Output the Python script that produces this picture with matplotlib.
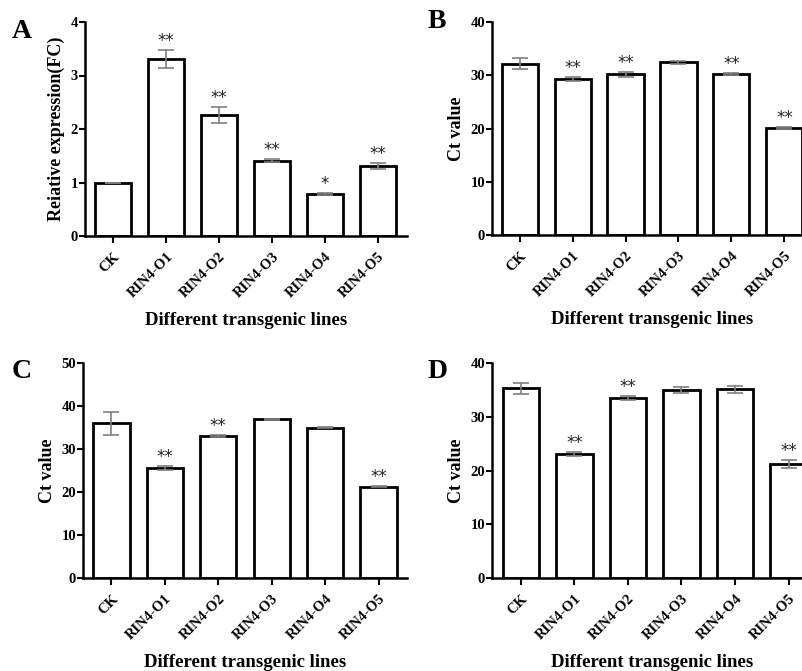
import numpy as np
import matplotlib
matplotlib.use("Agg")
import matplotlib.pyplot as plt

plt.rcParams["font.family"] = ["Liberation Serif", "DejaVu Serif"]
plt.rcParams["font.weight"] = "bold"

lines = ["CK", "RIN4-O1", "RIN4-O2", "RIN4-O3", "RIN4-O4", "RIN4-O5"]

# panel A: relative expression (fold change)
a_mean = [1.00, 3.31, 2.27, 1.41, 0.79, 1.31]
a_err = [0.00, 0.17, 0.15, 0.02, 0.02, 0.05]
a_sig = ["", "**", "**", "**", "*", "**"]

# panel B: Ct values
b_mean = [32.2, 29.3, 30.2, 32.4, 30.2, 20.1]
b_err = [1.0, 0.3, 0.5, 0.3, 0.2, 0.2]
b_sig = ["", "**", "**", "", "**", "**"]

# panel C: Ct values
c_mean = [36.0, 25.6, 33.0, 36.9, 35.0, 21.2]
c_err = [2.7, 0.4, 0.15, 0.1, 0.1, 0.1]
c_sig = ["", "**", "**", "", "", "**"]

# panel D: Ct values
d_mean = [35.3, 23.1, 33.5, 35.0, 35.1, 21.2]
d_err = [1.05, 0.4, 0.4, 0.5, 0.7, 0.7]
d_sig = ["", "**", "**", "", "", "**"]

W, H = 803, 671
fig = plt.figure(figsize=(W / 100, H / 100), dpi=100)


def px_axes(left, top, right, bottom):
    return fig.add_axes([left / W, 1 - bottom / H, (right - left) / W, (bottom - top) / H])


def panel(ax, mean, err, sig, ymax, ystep, ylabel, xlim, letter, lpos, xlab_x):
    x = np.arange(len(lines))
    ax.bar(x, mean, width=0.68, color="white", edgecolor="black", linewidth=2.0, zorder=2)
    ax.errorbar(x, mean, yerr=err, fmt="none", ecolor="#7f7f7f", elinewidth=1.2,
                capsize=6, capthick=1.2, zorder=3)
    for xi, m, e, s in zip(x, mean, err, sig):
        if s:
            ax.annotate(s, (xi, m + e), xytext=(0, 0), textcoords="offset points",
                        ha="center", va="bottom", fontsize=12, fontweight="normal",
                        color="#222222", family="DejaVu Sans")
    ax.set_xlim(*xlim)
    ax.set_ylim(0, ymax)
    ax.set_yticks(np.arange(0, ymax + 0.001, ystep))
    ax.set_xticks(x)
    ax.set_xticklabels(lines, rotation=45, ha="right", rotation_mode="anchor", fontsize=10.5)
    for sp in ["top", "right"]:
        ax.spines[sp].set_visible(False)
    for sp in ["left", "bottom"]:
        ax.spines[sp].set_linewidth(1.8)
    ax.tick_params(axis="y", length=4, width=1.5, labelsize=10.5, pad=1)
    ax.tick_params(axis="x", length=5, width=1.5, pad=5)
    ax.set_ylabel(ylabel, fontsize=13, fontweight="bold")
    ax.set_xlabel("Different transgenic lines", fontsize=13.5, fontweight="bold")
    ax.xaxis.set_label_coords(xlab_x, -0.355)
    fig.text(lpos[0] / W, 1 - lpos[1] / H, letter, fontsize=20, fontweight="bold",
             ha="left", va="baseline")


axA = px_axes(85, 22, 407, 236)
panel(axA, a_mean, a_err, a_sig, 4, 1, "Reiative expression(FC)", (-0.53, 5.55), "A", (12, 38), 0.5)

axB = px_axes(492, 22, 803, 235)
panel(axB, b_mean, b_err, b_sig, 40, 10, "Ct value", (-0.52, 5.35), "B", (428, 28), 0.514)

axC = px_axes(83, 363, 407, 578)
panel(axC, c_mean, c_err, c_sig, 50, 10, "Ct value", (-0.53, 5.53), "C", (12, 378), 0.5)

axD = px_axes(492, 363, 803, 578)
panel(axD, d_mean, d_err, d_sig, 40, 10, "Ct value", (-0.54, 5.27), "D", (428, 378), 0.514)

fig.savefig("out.png", dpi=100)
